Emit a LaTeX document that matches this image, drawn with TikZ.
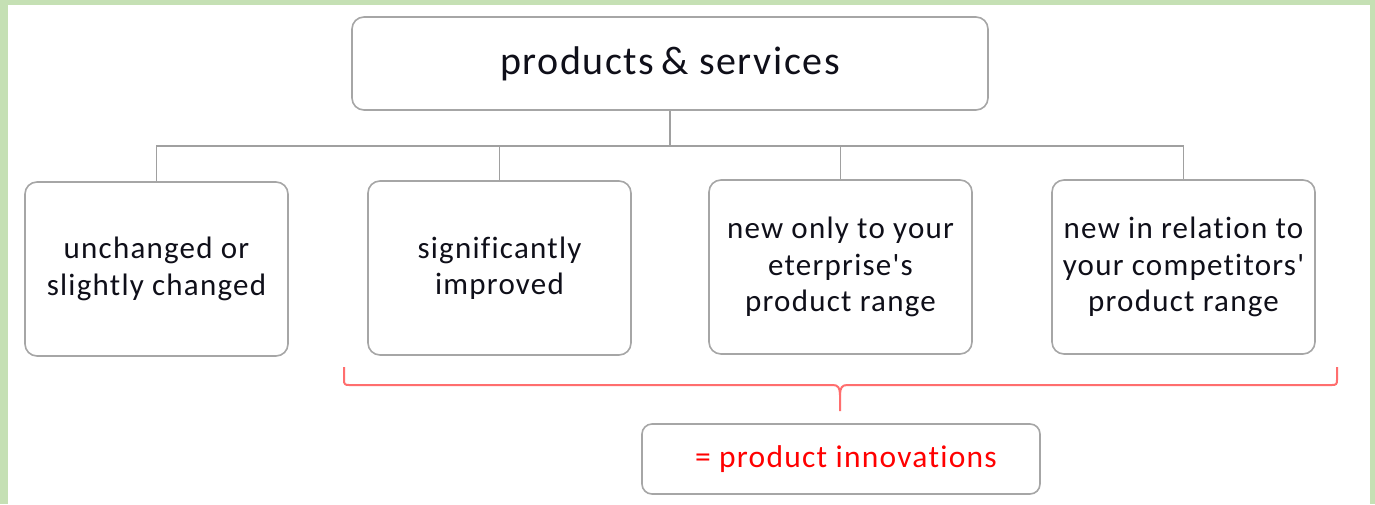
\documentclass[tikz,border=0pt]{standalone}
\usepackage{fontspec}
\setmainfont{Carlito}[Ligatures={NoCommon, TeXOff}, LetterSpace=4]
\definecolor{bordergreen}{RGB}{197,224,180}
\definecolor{boxgray}{RGB}{166,166,166}
\definecolor{linegray}{RGB}{160,160,160}
\definecolor{bracered}{RGB}{255,110,110}
\definecolor{txt}{RGB}{15,15,25}
\tikzset{
  boxnode/.style={draw=boxgray, line width=1.6pt, rounded corners=12pt, fill=white,
    minimum width=263pt, minimum height=174pt, align=center, text=txt,
    font=\fontsize{31}{36.5}\selectfont, inner sep=0pt},
  topnode/.style={draw=boxgray, line width=1.6pt, rounded corners=12pt, fill=white,
    minimum width=636pt, minimum height=93pt, text=txt,
    font=\fontsize{40}{46}\selectfont, inner sep=0pt},
  resnode/.style={draw=boxgray, line width=1.6pt, rounded corners=10pt, fill=white,
    minimum width=398pt, minimum height=70pt, text=red,
    font=\fontsize{31.5}{38}\selectfont, inner sep=0pt},
  conn/.style={draw=linegray, line width=1.8pt},
  bracestyle/.style={draw=bracered, line width=2pt}
}
\begin{document}
\begin{tikzpicture}[x=1pt,y=-1pt]
\useasboundingbox (0,0) rectangle (1375,504);
\fill[bordergreen] (0,0) rectangle (1375,504);
\fill[white] (8,5) rectangle (1370,504);

\node[topnode] (top) at (670,63.5) {products\,\&\ services};

\node[boxnode] (b1) at (156.5,269) {unchanged or\\slightly changed};
\node[boxnode] (b2) at (499.5,268) {significantly\\improved};
\node[boxnode] (b3) at (840.5,267) {new only to your\\eterprise's\\product range};
\node[boxnode] (b4) at (1183.5,267) {new in relation to\\your competitors'\\product range};

\coordinate (bus) at (670,146);
\draw[conn] (top.south) -- (bus);
\draw[conn] (b1.north) -- (b1.north |- bus) -- (b4.north |- bus) -- (b4.north);
\draw[conn] (b2.north) -- (b2.north |- bus);
\draw[conn] (b3.north) -- (b3.north |- bus);

\node[resnode] (res) at (841,459) {\hspace{10pt}= product innovations};

\coordinate (brL) at (344,367);
\coordinate (brR) at (1337,367);
\coordinate (brTip) at (840,395);
\coordinate (brEnd) at (840,411);
\draw[bracestyle] (brL) -- (344,380) .. controls (344,384) and (345,385) .. (349,385)
  -- (833,385) .. controls (838,385) and (840,388) .. (brTip) -- (brEnd);
\draw[bracestyle] (brR) -- (1337,380) .. controls (1337,384) and (1336,385) .. (1332,385)
  -- (847,385) .. controls (842,385) and (840,388) .. (brTip);
\end{tikzpicture}
\end{document}
